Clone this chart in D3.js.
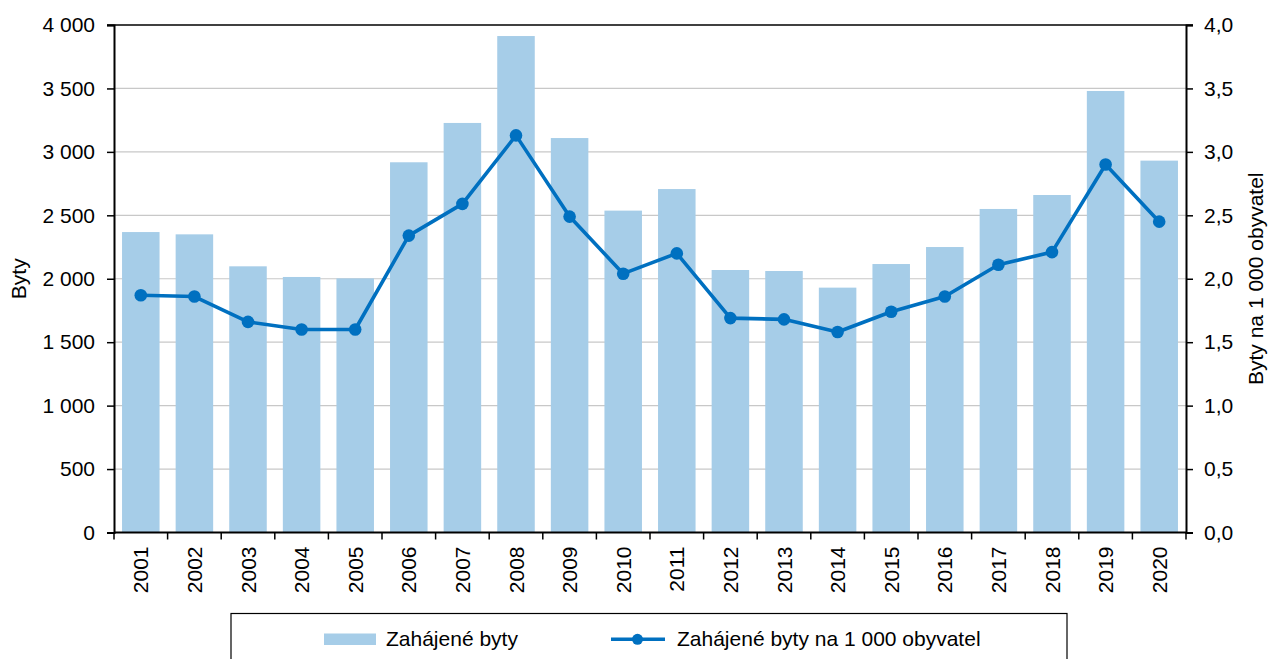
<!DOCTYPE html>
<html>
<head>
<meta charset="utf-8">
<script src="https://cdn.jsdelivr.net/npm/d3@7"></script>
<style>
  body { margin: 0; background: #fff; }
  svg { display: block; font-family: "Liberation Sans", Arial, sans-serif; }
  .tick text { font-size: 21px; fill: #000; }
</style>
</head>
<body>
<svg id="chart" width="1269" height="659"></svg>
<script>
// data
const years = ["2001","2002","2003","2004","2005","2006","2007","2008","2009","2010",
               "2011","2012","2013","2014","2015","2016","2017","2018","2019","2020"];
const started = [2368, 2350, 2098, 2014, 2003, 2918, 3228, 3913, 3109, 2537,
                 2707, 2069, 2061, 1930, 2116, 2250, 2550, 2660, 3480, 2931];
const perThousand = [1.87, 1.86, 1.66, 1.60, 1.60, 2.34, 2.59, 3.13, 2.49, 2.04,
                     2.20, 1.69, 1.68, 1.58, 1.74, 1.86, 2.11, 2.21, 2.90, 2.45];
const leftTicks = [0, 500, 1000, 1500, 2000, 2500, 3000, 3500, 4000];
const rightTicks = [0, 0.5, 1, 1.5, 2, 2.5, 3, 3.5, 4];

const barColor = "#a6cde8";
const lineColor = "#0070c0";

const cz = d3.formatLocale({decimal: ",", thousands: "\u00a0", grouping: [3], currency: ["", " Kč"]});
const fmtInt = cz.format(",d");
const fmtDec = cz.format(".1f");

const svg = d3.select("#chart");
const m = {left: 114, right: 1186, top: 25, bottom: 532.5};

const x = d3.scaleBand().domain(years).range([m.left, m.right]).paddingInner(0.3).paddingOuter(0.15);
const y = d3.scaleLinear().domain([0, 4000]).range([m.bottom, m.top]);
const y2 = d3.scaleLinear().domain([0, 4]).range([m.bottom, m.top]);

// gridlines
svg.append("g")
  .selectAll("line")
  .data(leftTicks.slice(1, -1))
  .join("line")
  .attr("x1", m.left).attr("x2", m.right)
  .attr("y1", d => y(d)).attr("y2", d => y(d))
  .attr("stroke", "#c8c8c8").attr("stroke-width", 1.2);

// bars
svg.append("g")
  .selectAll("rect")
  .data(years)
  .join("rect")
  .attr("x", d => x(d))
  .attr("width", x.bandwidth())
  .attr("y", (d, i) => y(started[i]))
  .attr("height", (d, i) => y(0) - y(started[i]))
  .attr("fill", barColor);

// top border
svg.append("line")
  .attr("x1", m.left - 7).attr("x2", m.right + 7)
  .attr("y1", m.top).attr("y2", m.top)
  .attr("stroke", "#000").attr("stroke-width", 1.5);

// left axis
const gl = svg.append("g")
  .attr("transform", `translate(${m.left},0)`)
  .call(d3.axisLeft(y).tickValues(leftTicks).tickFormat(fmtInt).tickSize(7).tickPadding(12));
// right axis
const gr = svg.append("g")
  .attr("transform", `translate(${m.right},0)`)
  .call(d3.axisRight(y2).tickValues(rightTicks).tickFormat(fmtDec).tickSize(7).tickPadding(11));

// bottom axis: ticks on band boundaries
const bottom = svg.append("g").attr("transform", `translate(0,${m.bottom})`);
const bounds = d3.range(years.length + 1).map(i => m.left + (m.right - m.left) * i / years.length);
bottom.append("line")
  .attr("x1", m.left).attr("x2", m.right)
  .attr("stroke", "#000").attr("stroke-width", 2);
bottom.selectAll("line.tk")
  .data(bounds)
  .join("line")
  .attr("class", "tk")
  .attr("x1", d => d).attr("x2", d => d)
  .attr("y1", 0).attr("y2", 7)
  .attr("stroke", "#000").attr("stroke-width", 1.5);
bottom.selectAll("text")
  .data(years)
  .join("text")
  .attr("transform", d => `translate(${x(d) + x.bandwidth() / 2 + 7.5},14) rotate(-90)`)
  .attr("text-anchor", "end")
  .attr("font-size", 21)
  .text(d => d);

[gl, gr].forEach(g => {
  g.select(".domain").attr("stroke", "#000").attr("stroke-width", 2);
  g.selectAll(".tick line").attr("stroke", "#000").attr("stroke-width", 1.5);
});

// line series
const line = d3.line()
  .x((d, i) => x(years[i]) + x.bandwidth() / 2)
  .y(d => y2(d));
svg.append("path")
  .datum(perThousand)
  .attr("d", line)
  .attr("fill", "none")
  .attr("stroke", lineColor)
  .attr("stroke-width", 3.6)
  .attr("stroke-linejoin", "round");
svg.append("g")
  .selectAll("circle")
  .data(perThousand)
  .join("circle")
  .attr("cx", (d, i) => x(years[i]) + x.bandwidth() / 2)
  .attr("cy", d => y2(d))
  .attr("r", 6.3)
  .attr("fill", lineColor);

// axis titles
svg.append("text")
  .attr("transform", `translate(25.5,${(m.top + m.bottom) / 2}) rotate(-90)`)
  .attr("text-anchor", "middle")
  .attr("font-size", 21)
  .text("Byty");
svg.append("text")
  .attr("transform", `translate(1263,${(m.top + m.bottom) / 2}) rotate(-90)`)
  .attr("text-anchor", "middle")
  .attr("font-size", 21)
  .text("Byty na 1 000 obyvatel");

// legend
const lg = svg.append("g");
lg.append("rect")
  .attr("x", 231).attr("y", 613.5)
  .attr("width", 836).attr("height", 60)
  .attr("fill", "#fff").attr("stroke", "#000").attr("stroke-width", 1.2);
lg.append("rect")
  .attr("x", 324).attr("y", 633.5).attr("width", 52).attr("height", 11.5)
  .attr("fill", barColor);
lg.append("text")
  .attr("x", 386).attr("y", 646)
  .attr("font-size", 21)
  .text("Zahájené byty");
lg.append("line")
  .attr("x1", 611).attr("x2", 665).attr("y1", 639.3).attr("y2", 639.3)
  .attr("stroke", lineColor).attr("stroke-width", 3.6);
lg.append("circle")
  .attr("cx", 637.5).attr("cy", 639.3).attr("r", 5.5)
  .attr("fill", lineColor);
lg.append("text")
  .attr("x", 677).attr("y", 646)
  .attr("font-size", 21)
  .text("Zahájené byty na 1 000 obyvatel");
</script>
</body>
</html>
